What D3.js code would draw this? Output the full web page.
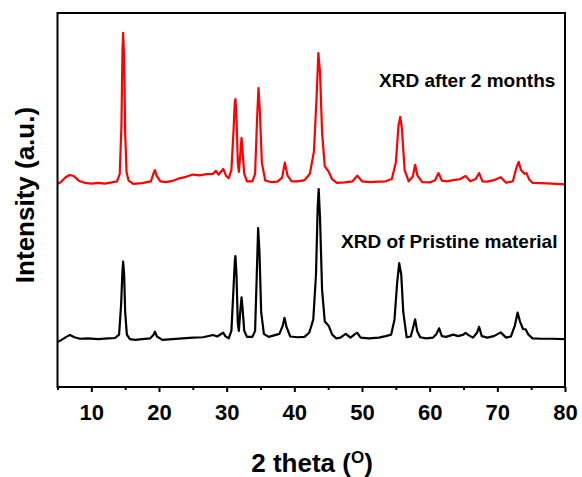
<!DOCTYPE html>
<html>
<head>
<meta charset="utf-8">
<script src="https://cdn.jsdelivr.net/npm/d3@7"></script>
<style>
  body { margin: 0; background: #fff; }
  text { font-family: "Liberation Sans", Arial, sans-serif; font-weight: bold; }
</style>
</head>
<body>
<div id="chart"></div>
<script>
// 2 theta (deg), intensity (a.u., as plotted with offset)
const afterTwoMonths = [
  [5.0, 54.3], [5.5, 54.8], [6.2, 56.1], [6.8, 56.7], [7.4, 56.4], [8.2, 55.1], [9.0, 54.6], [10, 54.4],
  [11, 54.6], [12, 54.4], [13, 54.7], [13.8, 55.0], [14.2, 57.0], [14.45, 70], [14.6, 90], [14.7, 94.7],
  [14.85, 88], [15.0, 68], [15.2, 57.5], [15.5, 55.2], [16.2, 54.3], [17.5, 54.5], [18.8, 55.0], [19.2, 57.2],
  [19.4, 58.0], [19.65, 56.5], [20.2, 55.0], [21.0, 54.8], [22.0, 55.1], [23.0, 55.8], [24.0, 56.2], [25.0, 56.8],
  [26.0, 56.6], [27.0, 56.9], [28.0, 57.0], [28.4, 57.8], [28.8, 56.8], [29.5, 58.3], [29.9, 56.5], [30.3, 55.8],
  [30.7, 58], [31.0, 68], [31.2, 76], [31.3, 77.0], [31.45, 72], [31.65, 60], [31.8, 57.5], [32.0, 62],
  [32.2, 66.6], [32.35, 63], [32.6, 57], [33.0, 55.0], [33.8, 55.0], [34.2, 57], [34.5, 72], [34.7, 79.9],
  [34.9, 74], [35.2, 60], [35.7, 55.2], [36.5, 54.8], [37.5, 54.9], [38.2, 56.0], [38.6, 60.0], [39.0, 56.5],
  [39.6, 55.0], [40.5, 55.0], [41.5, 55.3], [42.3, 57], [42.9, 63], [43.3, 78], [43.55, 89.3], [43.8, 84],
  [44.1, 68], [44.5, 59], [45.1, 57.5], [45.6, 55.5], [46.3, 54.6], [47.5, 54.7], [48.6, 55.0], [49.3, 56.5],
  [50.0, 55.0], [51.2, 54.8], [52.5, 54.9], [53.5, 55.0], [54.4, 55.6], [55.0, 60], [55.4, 70], [55.65, 72.2],
  [55.9, 69], [56.3, 58], [56.9, 55.0], [57.5, 56.2], [57.85, 59.4], [58.2, 56.5], [58.9, 54.8], [60.0, 54.7],
  [60.8, 55.3], [61.3, 57.2], [61.8, 55.2], [62.5, 55.0], [63.5, 55.3], [64.5, 55.6], [65.3, 56.4], [66.0, 55.0],
  [66.8, 55.6], [67.3, 57.2], [67.8, 55.0], [68.5, 54.9], [69.5, 55.3], [70.5, 56.1], [71.3, 54.6], [72.3, 55.0],
  [72.8, 58.5], [73.15, 60.2], [73.5, 58], [74.0, 57.0], [74.3, 57.2], [74.7, 55.5], [75.2, 54.6], [76.5, 54.5],
  [78.0, 54.4], [80.0, 54.2]
];

const pristine = [
  [5.0, 12.0], [5.6, 12.6], [6.3, 13.4], [6.85, 13.9], [7.5, 13.3], [8.3, 12.9], [9.5, 13.0], [11, 12.8],
  [12.5, 13.0], [13.5, 13.1], [14.1, 14.0], [14.4, 22], [14.6, 31], [14.7, 33.5], [14.85, 30], [15.0, 20],
  [15.25, 14], [15.7, 12.8], [16.5, 12.6], [17.5, 12.8], [18.7, 13.0], [19.2, 14.0], [19.4, 14.8], [19.7, 13.5],
  [20.5, 12.6], [22, 12.8], [23.5, 13.0], [25, 13.2], [26.5, 13.3], [28.0, 13.9], [28.6, 13.5], [29.3, 14.3],
  [29.5, 14.5], [29.8, 13.6], [30.3, 13.0], [30.7, 15], [31.0, 26], [31.2, 33.5], [31.3, 35.0], [31.45, 30],
  [31.65, 17], [31.8, 15], [32.0, 20], [32.2, 24.0], [32.35, 21], [32.6, 15], [33.0, 13.4], [33.8, 13.4],
  [34.2, 15], [34.45, 30], [34.65, 42.5], [34.85, 36], [35.1, 20], [35.5, 14.2], [36.2, 13.4], [37.0, 13.8],
  [37.8, 14.2], [38.3, 16.5], [38.55, 18.5], [38.85, 16], [39.4, 13.5], [40.5, 13.3], [41.5, 13.4], [42.2, 14.5],
  [42.8, 18], [43.2, 30], [43.45, 48], [43.6, 52.9], [43.8, 45], [44.1, 26], [44.5, 17.5], [45.1, 16.3],
  [45.6, 14], [46.2, 13.0], [46.8, 13.2], [47.6, 14.2], [48.3, 13.2], [49.0, 14.2], [49.3, 14.5], [49.8, 13.2],
  [51, 13.0], [52.5, 13.2], [53.5, 13.6], [54.3, 14.0], [54.8, 18], [55.2, 28], [55.5, 33.1], [55.8, 30],
  [56.1, 20], [56.6, 13.3], [57.2, 13.5], [57.5, 15.5], [57.85, 18.1], [58.15, 15], [58.6, 13.3], [59.5, 13.0],
  [60.5, 13.2], [61.0, 14.2], [61.4, 15.7], [61.8, 13.6], [62.4, 13.4], [63.5, 14.0], [64.2, 13.6], [65.0, 14.0],
  [65.3, 14.5], [65.8, 13.8], [66.4, 13.2], [67.0, 14.5], [67.3, 16.1], [67.7, 13.6], [68.5, 13.2], [69.5, 13.6],
  [70.5, 14.6], [71.3, 13.2], [72.0, 13.5], [72.6, 16.5], [73.0, 19.9], [73.35, 17.5], [73.8, 15.5], [74.2, 15.4],
  [74.6, 14], [75.2, 13.0], [76.5, 12.9], [78, 12.9], [80, 12.8]
];

const majorTicks = [10, 20, 30, 40, 50, 60, 70, 80];
const minorTicks = [5, 15, 25, 35, 45, 55, 65, 75];

const width = 582;
const height = 477;

const svg = d3.select('#chart').append('svg')
    .attr('width', width)
    .attr('height', height);

const xScale = d3.scaleLinear()
    .domain([5, 80])
    .range([57.5, 565]);

const yScale = d3.scaleLinear()
    .domain([0, 100])
    .range([387, 13]);

// minor ticks first, then major ticks with labels
svg.append('g')
    .attr('transform', `translate(0,${yScale(0)})`)
    .call(d3.axisBottom(xScale).tickValues(minorTicks).tickSize(3).tickFormat(''))
    .call(g => g.select('.domain').remove())
    .call(g => g.selectAll('line').attr('stroke-width', 2));

const xAxis = svg.append('g')
    .attr('transform', `translate(0,${yScale(0)})`)
    .call(d3.axisBottom(xScale).tickValues(majorTicks).tickSize(5).tickPadding(12).tickFormat(d3.format('d')));

xAxis.select('.domain').remove();
xAxis.selectAll('line').attr('stroke-width', 2);
xAxis.selectAll('text')
    .attr('fill', '#000')
    .style('font-size', '22px');

// data lines
const line = d3.line()
    .x(d => xScale(d[0]))
    .y(d => yScale(d[1]));

svg.append('path')
    .datum(pristine)
    .attr('fill', 'none')
    .attr('stroke', '#000')
    .attr('stroke-width', 2.2)
    .attr('stroke-linejoin', 'round')
    .attr('d', line);

svg.append('path')
    .datum(afterTwoMonths)
    .attr('fill', 'none')
    .attr('stroke', '#ff0000')
    .attr('stroke-width', 2.2)
    .attr('stroke-linejoin', 'round')
    .attr('d', line);

// frame
svg.append('rect')
    .attr('x', xScale(5))
    .attr('y', yScale(100))
    .attr('width', xScale(80) - xScale(5))
    .attr('height', yScale(0) - yScale(100))
    .attr('fill', 'none')
    .attr('stroke', '#000')
    .attr('stroke-width', 2);

// annotations
svg.append('text')
    .attr('x', 379)
    .attr('y', 87)
    .style('font-size', '19px')
    .text('XRD after 2 months');

svg.append('text')
    .attr('x', 341)
    .attr('y', 248)
    .style('font-size', '19px')
    .text('XRD of Pristine material');

// axis titles
const xTitle = svg.append('text')
    .attr('x', 312)
    .attr('y', 472)
    .attr('text-anchor', 'middle')
    .style('font-size', '26px');
xTitle.append('tspan').text('2 theta (');
xTitle.append('tspan').attr('dy', -9).style('font-size', '17px').text('O');
xTitle.append('tspan').attr('dy', 9).text(')');

svg.append('text')
    .attr('transform', 'translate(34,195) rotate(-90)')
    .attr('text-anchor', 'middle')
    .style('font-size', '26px')
    .text('Intensity (a.u.)');
</script>
</body>
</html>
